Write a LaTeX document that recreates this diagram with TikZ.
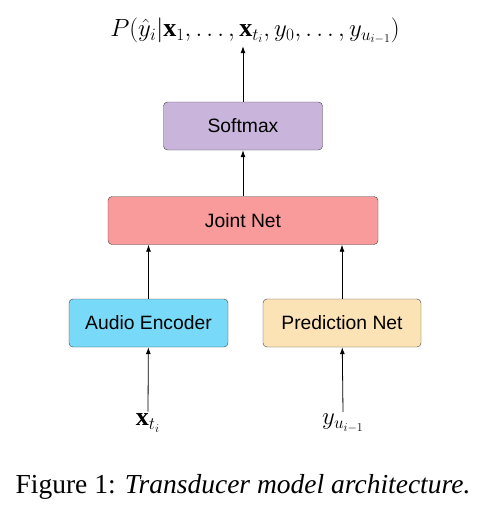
\documentclass[tikz,border=0pt]{standalone}
\usepackage{amsmath}
\usepackage{fontspec}
\setmainfont{Liberation Serif}
\setsansfont{Liberation Sans}
\usetikzlibrary{positioning,arrows.meta}

\definecolor{softmaxpurple}{HTML}{C9B5DB}
\definecolor{jointred}{HTML}{F99B9B}
\definecolor{encoderblue}{HTML}{78DAF8}
\definecolor{predictionsand}{HTML}{FCE3B5}

\begin{document}
\begin{tikzpicture}[
  x=1pt, y=-1pt,
  block/.style = {
    draw=black!75,
    shape=rectangle,
    rounded corners=4pt,
    minimum height=48pt,
    font=\sffamily\fontsize{19.3}{22}\selectfont,
    align=center
  },
  formula/.style = {font=\fontsize{26}{30}\selectfont, inner sep=2pt},
  arrow/.style = {-{Latex[length=7pt,width=5pt]}, thick},
]
  \useasboundingbox (0,0) rectangle (491,512);

  \node (softmax)[
    block,
    fill=softmaxpurple,
    minimum width=159pt
  ] at (243,126) {Softmax};
  \node (joint)[
    block,
    fill=jointred,
    minimum width=270pt
  ] at (243,220.5) {Joint Net};
  \node (encoder)[
    block,
    fill=encoderblue,
    minimum width=159pt
  ] at (148.5,323) {Audio Encoder};
  \node (prediction)[
    block,
    fill=predictionsand,
    minimum width=158pt
  ] at (342,323) {Prediction Net};

  \node (xin)[formula] at (148,423) {$\mathbf{x}_{t_i}$};
  \node (yin)[formula] at (343,423) {$y_{u_{i-1}}$};
  \node (output)[formula] at (255,31)
    {$P(\hat{y}_i|\mathbf{x}_1,\ldots,\mathbf{x}_{t_i},y_0,\ldots,y_{u_{i-1}})$};

  %caption
  \node (caption)[font=\fontsize{27.5}{32}\selectfont] at (243,487)
    {Figure 1: \textit{Transducer model architecture.}};

  \draw[arrow] (xin.north)     -- (encoder);
  \draw[arrow] (yin.north)     -- (prediction);
  \draw[arrow] (encoder)       -- (encoder |- joint.south);
  \draw[arrow] (prediction)    -- (prediction |- joint.south);
  \draw[arrow] (joint)         -- (softmax);
  \draw[arrow] (softmax)       -- (softmax |- output.south);
\end{tikzpicture}
\end{document}
